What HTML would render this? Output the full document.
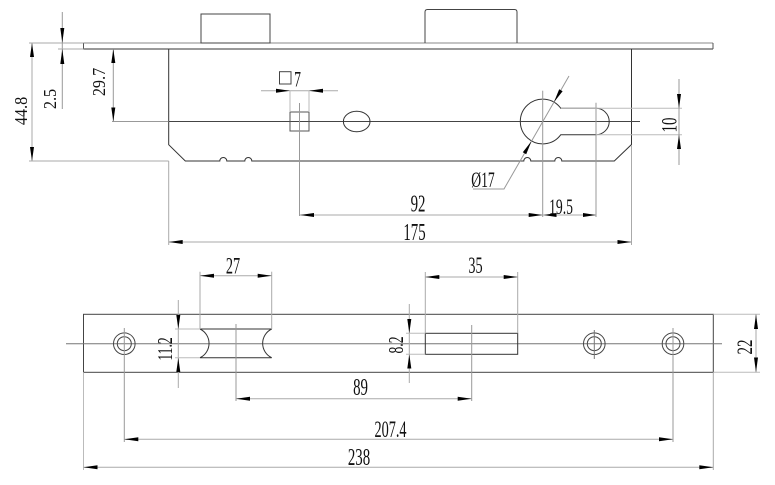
<!DOCTYPE html>
<html>
<head>
<meta charset="utf-8">
<style>
  html,body{margin:0;padding:0;background:#fff;}
  svg{display:block;}
  text{font-family:"Liberation Serif","DejaVu Serif",serif;fill:#111;}
</style>
</head>
<body>
<svg width="775" height="485" viewBox="0 0 775 485" xmlns="http://www.w3.org/2000/svg">
  <rect x="0" y="0" width="775" height="485" fill="#fff"/>

  <!-- ================= TOP VIEW ================= -->
  <g fill="none" stroke-width="1">
    <!-- faceplate -->
    <line x1="83.5" y1="43" x2="713" y2="43" stroke="#888"/>
    <line x1="83.5" y1="49" x2="713" y2="49" stroke="#333"/>
    <line x1="83.5" y1="43" x2="83.5" y2="49" stroke="#555"/>
    <line x1="713" y1="43" x2="713" y2="49" stroke="#555"/>
    <!-- bolts -->
    <rect x="201" y="14" width="69" height="29" stroke="#444"/>
    <path d="M425,43 L425,12 Q425,9.5 427.5,9.5 L514.5,9.5 Q517,9.5 517,12 L517,43" stroke="#444"/>
    <!-- body -->
    <path d="M168.7,49 L168.7,144.7 L185.3,161 L219.8,161 A3.5,3.5 0 0 1 226.8,161 L244.8,161 A3.5,3.5 0 0 1 251.8,161 L523.8,161 A3.5,3.5 0 0 1 530.8,161 L554.8,161 A3.5,3.5 0 0 1 561.8,161 L614.3,161 L631.5,144.5 L631.5,49" stroke="#333"/>
    <!-- center line -->
    <line x1="112" y1="121.5" x2="168.7" y2="121.5" stroke="#999"/>
    <line x1="168.7" y1="121.5" x2="640" y2="121.5" stroke="#444"/>
    <!-- square 7 -->
    <rect x="290" y="112" width="19" height="19" stroke="#555"/>
    <line x1="299.5" y1="103" x2="299.5" y2="216" stroke="#999"/>
    <!-- oval -->
    <ellipse cx="356.7" cy="121.5" rx="13.3" ry="10.3" stroke="#333"/>
    <!-- keyhole -->
    <path d="M560.8,108.3 A22.4,22.4 0 1 0 560.8,134.7 L596,134.7 A13.2,13.2 0 0 0 596,108.3 Z" stroke="#333"/>
    <line x1="542.7" y1="90.7" x2="542.7" y2="217" stroke="#999"/>
    <line x1="596" y1="102.7" x2="596" y2="217" stroke="#999"/>
    <!-- Ø17 leader -->
    <polyline points="569,76 504,189 473,189" stroke="#999"/>
    <!-- 10 extension -->
    <line x1="561" y1="108.3" x2="682" y2="108.3" stroke="#bbb"/>
    <line x1="596" y1="134.7" x2="682" y2="134.7" stroke="#bbb"/>
    <line x1="679" y1="79" x2="679" y2="165" stroke="#999"/>
    <!-- 44.8 -->
    <line x1="29" y1="43" x2="83.5" y2="43" stroke="#aaa"/>
    <line x1="29" y1="161" x2="168.7" y2="161" stroke="#aaa"/>
    <line x1="32" y1="43" x2="32" y2="161" stroke="#aaa"/>
    <!-- 2.5 -->
    <line x1="62.3" y1="12" x2="62.3" y2="109" stroke="#999"/>
    <line x1="58" y1="49" x2="83.5" y2="49" stroke="#aaa"/>
    <!-- 29.7 -->
    <line x1="113.3" y1="49" x2="113.3" y2="121.5" stroke="#999"/>
    <!-- □7 dim -->
    <line x1="261" y1="90.7" x2="338" y2="90.7" stroke="#aaa"/>
    <line x1="290" y1="90.7" x2="290" y2="112" stroke="#bbb"/>
    <line x1="309" y1="90.7" x2="309" y2="112" stroke="#bbb"/>
    <rect x="279.5" y="71.7" width="11.5" height="12.3" stroke="#444"/>
    <!-- 92 / 19.5 -->
    <line x1="300" y1="215" x2="596" y2="215" stroke="#aaa"/>
    <!-- 175 -->
    <line x1="168.7" y1="161" x2="168.7" y2="245" stroke="#aaa"/>
    <line x1="631.5" y1="145" x2="631.5" y2="245" stroke="#aaa"/>
    <line x1="168.7" y1="242" x2="631.5" y2="242" stroke="#aaa"/>
  </g>

  <!-- top-view arrows -->
  <g fill="#000" stroke="none">
    <polygon points="62.3,42.7 60.3,28 64.3,28"/>
    <polygon points="62.3,49 60.3,64 64.3,64"/>
    <polygon points="32,43 30,57 34,57"/>
    <polygon points="32,161 30,147 34,147"/>
    <polygon points="113.3,49 111.3,63 115.3,63"/>
    <polygon points="113.3,121.5 111.3,107.5 115.3,107.5"/>
    <polygon points="290,90.7 276,88.7 276,92.7"/>
    <polygon points="309,90.7 323,88.7 323,92.7"/>
    <polygon points="553.9,102.3 559.2,89.2 562.6,91.2"/>
    <polygon points="531.5,141.1 522.8,152.2 526.2,154.2"/>
    <polygon points="679,108.3 677,94 681,94"/>
    <polygon points="679,134.7 677,149 681,149"/>
    <polygon points="300,215 314,213 314,217"/>
    <polygon points="542.7,215 528.7,213 528.7,217"/>
    <polygon points="543.5,215 556.5,213 556.5,217"/>
    <polygon points="596,215 583,213 583,217"/>
    <polygon points="168.7,242 182.7,240 182.7,244"/>
    <polygon points="631.5,242 617.5,240 617.5,244"/>
  </g>

  <!-- top-view text -->
  <text font-size="18" text-anchor="middle" transform="translate(27,111) rotate(-90) scale(0.9,1)">44.8</text>
  <text font-size="18" text-anchor="middle" transform="translate(56,99) rotate(-90) scale(0.9,1)">2.5</text>
  <text font-size="18" text-anchor="middle" transform="translate(105,82) rotate(-90) scale(0.9,1)">29.7</text>
  <text font-size="22" text-anchor="middle" transform="translate(297.5,86.5) scale(0.62,1)">7</text>
  <text font-size="22" text-anchor="middle" transform="translate(483,187) scale(0.62,1)">Ø17</text>
  <text font-size="22" text-anchor="middle" transform="translate(676.5,125) rotate(-90) scale(0.68,1)">10</text>
  <text font-size="24" text-anchor="middle" transform="translate(418,211.5) scale(0.62,1)">92</text>
  <text font-size="22" text-anchor="middle" transform="translate(561,214) scale(0.62,1)">19.5</text>
  <text font-size="24" text-anchor="middle" transform="translate(414.5,240) scale(0.62,1)">175</text>

  <!-- ================= BOTTOM VIEW ================= -->
  <g fill="none" stroke-width="1">
    <rect x="83.5" y="314.3" width="629.8" height="58" stroke="#444"/>
    <line x1="66" y1="343.7" x2="722" y2="343.7" stroke="#777"/>
    <circle cx="124.3" cy="343.7" r="10.8" stroke="#444"/>
    <circle cx="124.3" cy="343.7" r="7" stroke="#444"/>
    <circle cx="594.3" cy="343.7" r="10.8" stroke="#444"/>
    <circle cx="594.3" cy="343.7" r="7" stroke="#444"/>
    <circle cx="673" cy="343.7" r="10.8" stroke="#444"/>
    <circle cx="673" cy="343.7" r="7" stroke="#444"/>
    <line x1="124.3" y1="328" x2="124.3" y2="442" stroke="#999"/>
    <line x1="594.3" y1="330" x2="594.3" y2="359" stroke="#777"/>
    <line x1="673" y1="328" x2="673" y2="442" stroke="#999"/>
    <path d="M200,329 L271.7,329 A15.9,15.9 0 0 0 271.7,357.7 L200,357.7 A15.9,15.9 0 0 0 200,329 Z" stroke="#333"/>
    <line x1="236" y1="324" x2="236" y2="401" stroke="#999"/>
    <line x1="200" y1="271.7" x2="200" y2="329" stroke="#aaa"/>
    <line x1="271.7" y1="271.7" x2="271.7" y2="329" stroke="#aaa"/>
    <line x1="200" y1="275.7" x2="271.7" y2="275.7" stroke="#aaa"/>
    <line x1="178.3" y1="300" x2="178.3" y2="388" stroke="#aaa"/>
    <line x1="175" y1="329" x2="200" y2="329" stroke="#bbb"/>
    <line x1="175" y1="357.7" x2="200" y2="357.7" stroke="#bbb"/>
    <rect x="425.3" y="333.3" width="92.4" height="21" stroke="#333"/>
    <line x1="471.7" y1="325" x2="471.7" y2="401" stroke="#999"/>
    <line x1="425.3" y1="272" x2="425.3" y2="333.3" stroke="#aaa"/>
    <line x1="517.7" y1="272" x2="517.7" y2="333.3" stroke="#aaa"/>
    <line x1="425.3" y1="277" x2="517.7" y2="277" stroke="#aaa"/>
    <line x1="409.3" y1="304" x2="409.3" y2="383" stroke="#aaa"/>
    <line x1="406" y1="333.3" x2="425.3" y2="333.3" stroke="#bbb"/>
    <line x1="406" y1="354.3" x2="425.3" y2="354.3" stroke="#bbb"/>
    <line x1="236" y1="398.7" x2="471.7" y2="398.7" stroke="#aaa"/>
    <line x1="124.3" y1="439.3" x2="673" y2="439.3" stroke="#aaa"/>
    <line x1="83.5" y1="372.3" x2="83.5" y2="470" stroke="#bbb"/>
    <line x1="713.3" y1="372.3" x2="713.3" y2="470" stroke="#aaa"/>
    <line x1="83.5" y1="467.3" x2="713.3" y2="467.3" stroke="#aaa"/>
    <line x1="713.3" y1="314.3" x2="760" y2="314.3" stroke="#bbb"/>
    <line x1="713.3" y1="372.3" x2="760" y2="372.3" stroke="#bbb"/>
    <line x1="756" y1="314.3" x2="756" y2="372.3" stroke="#aaa"/>
  </g>

  <!-- bottom-view arrows -->
  <g fill="#000" stroke="none">
    <polygon points="200,275.7 214,273.7 214,277.7"/>
    <polygon points="271.7,275.7 257.7,273.7 257.7,277.7"/>
    <polygon points="178.3,329 176.3,315 180.3,315"/>
    <polygon points="178.3,357.7 176.3,372 180.3,372"/>
    <polygon points="425.3,277 439.3,275 439.3,279"/>
    <polygon points="517.7,277 503.7,275 503.7,279"/>
    <polygon points="409.3,333.3 407.3,319 411.3,319"/>
    <polygon points="409.3,354.3 407.3,368.5 411.3,368.5"/>
    <polygon points="236,398.7 250,396.7 250,400.7"/>
    <polygon points="471.7,398.7 457.7,396.7 457.7,400.7"/>
    <polygon points="124.3,439.3 138.3,437.3 138.3,441.3"/>
    <polygon points="673,439.3 659,437.3 659,441.3"/>
    <polygon points="83.5,467.3 97.5,465.3 97.5,469.3"/>
    <polygon points="713.3,467.3 699.3,465.3 699.3,469.3"/>
    <polygon points="756,314.3 754,329 758,329"/>
    <polygon points="756,372.3 754,357.5 758,357.5"/>
  </g>

  <!-- bottom-view text -->
  <text font-size="23" text-anchor="middle" transform="translate(233,273.3) scale(0.62,1)">27</text>
  <text font-size="23" text-anchor="middle" transform="translate(475.5,273) scale(0.62,1)">35</text>
  <text font-size="21" text-anchor="middle" transform="translate(172,349) rotate(-90) scale(0.65,1)">11.2</text>
  <text font-size="21" text-anchor="middle" transform="translate(403,345) rotate(-90) scale(0.65,1)">8.2</text>
  <text font-size="22" text-anchor="middle" transform="translate(752,347) rotate(-90) scale(0.68,1)">22</text>
  <text font-size="24" text-anchor="middle" transform="translate(360.5,395) scale(0.62,1)">89</text>
  <text font-size="23" text-anchor="middle" transform="translate(390.5,437) scale(0.62,1)">207.4</text>
  <text font-size="24" text-anchor="middle" transform="translate(359,465) scale(0.62,1)">238</text>
</svg>
</body>
</html>
